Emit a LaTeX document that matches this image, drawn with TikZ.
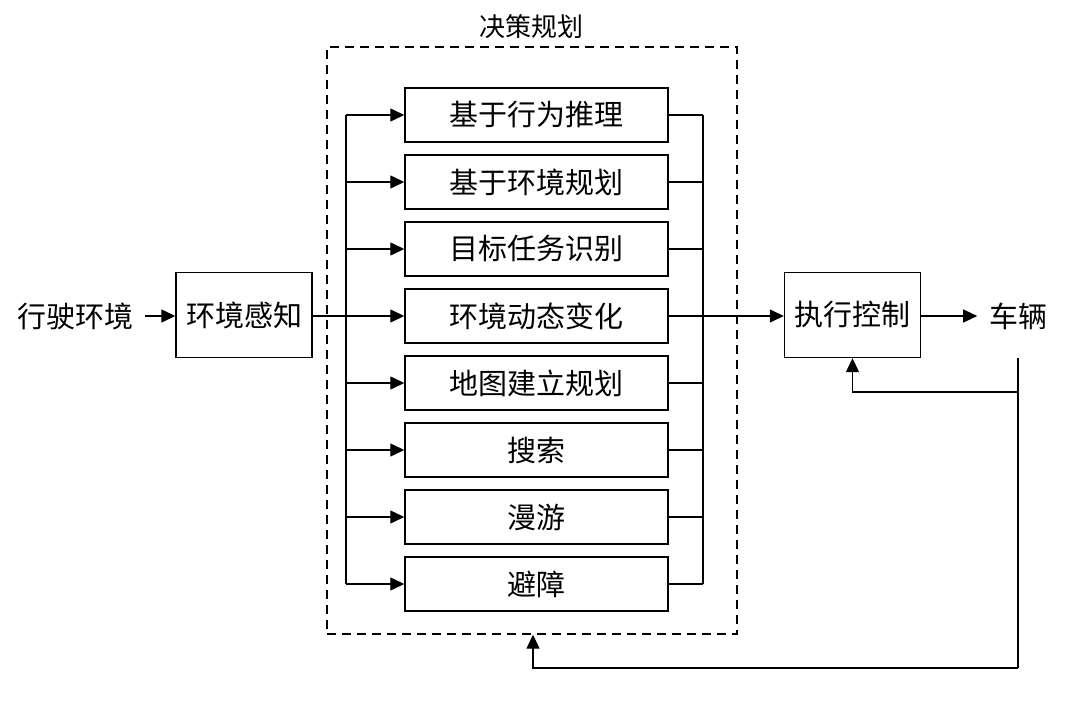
\documentclass[tikz,border=0pt]{standalone}
\usepackage{fontspec}
\setmainfont{Noto Sans CJK SC}
\usetikzlibrary{arrows.meta,positioning}
\begin{document}
\begin{tikzpicture}[x=1pt,y=-1pt,
  box/.style={draw,line width=1.4pt,minimum width=263pt,minimum height=54pt,inner sep=0pt,font=\fontsize{29}{32}\selectfont},
  bigbox/.style={draw,line width=1.4pt,minimum width=136pt,minimum height=85pt,inner sep=0pt,font=\fontsize{29}{32}\selectfont},
  lbl/.style={inner sep=0pt,font=\fontsize{29}{32}\selectfont},
  conn/.style={line width=1.3pt},
  arr/.style={line width=1.3pt,-{Triangle[length=14pt,width=13pt]}}]
\useasboundingbox (0,0) rectangle (1080,704);
\node[draw,dashed,line width=1.4pt,dash pattern=on 9pt off 6pt,minimum width=410pt,minimum height=587pt,inner sep=0pt] (frame) at (532,340.5) {};
\node[lbl,font=\fontsize{26}{30}\selectfont] (title) at (531,27) {决策规划};
\node[box] (b1) at (536.5,115) {基于行为推理};
\node[box] (b2) at (536.5,182) {基于环境规划};
\node[box] (b3) at (536.5,249) {目标任务识别};
\node[box] (b4) at (536.5,316) {环境动态变化};
\node[box] (b5) at (536.5,383) {地图建立规划};
\node[box] (b6) at (536.5,450) {搜索};
\node[box] (b7) at (536.5,517) {漫游};
\node[box] (b8) at (536.5,584) {避障};
\node[lbl] (env) at (75,316) {行驶环境};
\node[bigbox] (perc) at (244,315) {环境感知};
\node[bigbox] (ctrl) at (852.5,315) {执行控制};
\node[lbl] (veh) at (1018,316) {车辆};
\coordinate (lt) at (346,115);
\coordinate (lb) at (346,584);
\coordinate (rt) at (703,115);
\coordinate (rb) at (703,584);
\coordinate (rm) at (703,316);
\coordinate (vdown) at (1018,668);
\coordinate (vsplit) at (1018,392);
% left bus
\draw[conn] (lt) -- (lb);
\foreach \b in {b1,b2,b3,b5,b6,b7,b8} \draw[arr] (lt |- \b.west) -- (\b.west);
\draw[arr] (perc.east |- b4.west) -- (b4.west);
% right bus
\draw[conn] (rt) -- (rb);
\foreach \b in {b1,b2,b3,b4,b5,b6,b7,b8} \draw[conn] (\b.east) -- (rt |- \b.east);
\draw[arr] (rm) -- (rm -| ctrl.west);
% inputs and outputs
\coordinate (envr) at (145,316);
\draw[arr] (envr) -- (perc.west |- envr);
\draw[arr] (ctrl.east |- veh) -- ++(56,0);
% feedback
\coordinate (vtop) at (1018,358);
\draw[conn] (vtop) -- (vdown);
\draw[arr] (vsplit) -| (ctrl.south);
\draw[arr] (vdown) -| (frame.south -| 533,0);
\end{tikzpicture}
\end{document}
